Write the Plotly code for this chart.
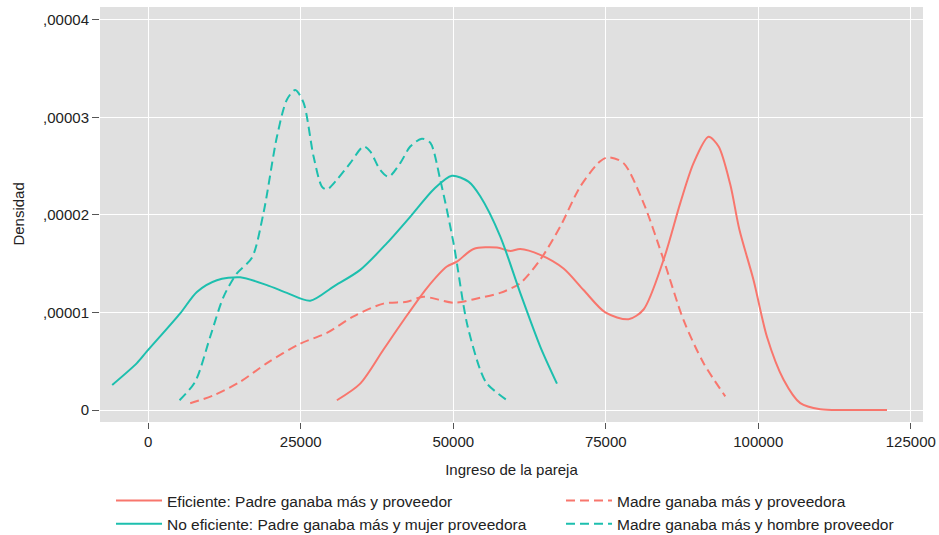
import plotly.graph_objects as go

# Kernel density estimates of couple income, by group
ef_x = [30930, 34750, 38570, 41860, 45680, 48960, 50600, 53330, 57160, 59340, 60980, 64260,
        68080, 71360, 74920, 78740, 81200, 84480, 87210, 89390, 91850, 93500, 95410, 96900,
        99230, 101420, 104150, 106890, 110160, 115000, 121100]
ef_y = [0.10, 0.27, 0.62, 0.92, 1.25, 1.47, 1.52, 1.65, 1.665, 1.63, 1.65, 1.59,
        1.45, 1.23, 1.00, 0.93, 1.03, 1.54, 2.12, 2.53, 2.80, 2.70, 2.31, 1.85,
        1.33, 0.75, 0.31, 0.07, 0.007, 0.0, 0.0]

mp_x = [6885, 10710, 15080, 19460, 24920, 29290, 33660, 38570, 42400, 45140, 50050, 54430,
        57700, 60980, 64260, 67540, 70820, 74100, 75460, 77920, 81200, 84480, 87760, 91040, 94590]
mp_y = [0.07, 0.15, 0.29, 0.48, 0.68, 0.79, 0.96, 1.09, 1.11, 1.16, 1.10, 1.15,
        1.20, 1.30, 1.54, 1.88, 2.29, 2.55, 2.59, 2.53, 2.12, 1.54, 0.92, 0.48, 0.14]

ne_x = [-5900, -1850, -220, 5246, 7980, 11260, 15080, 19460, 22730, 26560, 30380, 34750,
        39130, 43490, 46770, 49780, 52500, 54430, 57700, 60980, 64260, 67000]
ne_y = [0.256, 0.48, 0.60, 0.99, 1.21, 1.33, 1.36, 1.28, 1.20, 1.12, 1.265, 1.436,
        1.71, 2.02, 2.26, 2.40, 2.34, 2.19, 1.78, 1.20, 0.65, 0.27]

mh_x = [5140, 7700, 10160, 12350, 14540, 17000, 18900, 21100, 22730, 24100, 25460, 27100,
        28470, 29290, 30930, 33110, 35300, 36390, 38030, 39400, 41310, 42950, 44860, 46230,
        47870, 50050, 52240, 54430, 55520, 58800]
mh_y = [0.10, 0.29, 0.75, 1.16, 1.40, 1.56, 2.02, 2.80, 3.18, 3.28, 3.15, 2.60,
        2.29, 2.26, 2.36, 2.53, 2.70, 2.65, 2.46, 2.39, 2.53, 2.70, 2.78, 2.74,
        2.36, 1.71, 0.89, 0.41, 0.27, 0.10]

names = [
    "Eficiente: Padre ganaba más y proveedor",
    "Madre ganaba más y proveedora",
    "No eficiente: Padre ganaba más y mujer proveedora",
    "Madre ganaba más y hombre proveedor",
]

x_ticks = [0, 25000, 50000, 75000, 100000, 125000]
y_ticks = [0, 1e-5, 2e-5, 3e-5, 4e-5]
y_ticktext = ["0", ",00001", ",00002", ",00003", ",00004"]

RED = "#F8766D"
TEAL = "#1DBFAE"
DASH = "9px,5px"

# (x, y, name, colour, dash, legend column)
series = [
    (ef_x, ef_y, names[0], RED, "solid", "legend"),
    (mp_x, mp_y, names[1], RED, DASH, "legend2"),
    (ne_x, ne_y, names[2], TEAL, "solid", "legend"),
    (mh_x, mh_y, names[3], TEAL, DASH, "legend2"),
]

fig = go.Figure()
for i, (xs, ys, name, color, dash, leg) in enumerate(series):
    fig.add_trace(go.Scatter(
        x=xs, y=[v * 1e-5 for v in ys], name=name, mode="lines",
        legend=leg, legendgroup=f"g{i}",
        line=dict(color=color, width=2, dash=dash, shape="spline", smoothing=0.8),
    ))

legend_common = dict(
    orientation="v", xref="container", yref="container",
    xanchor="left", yanchor="top", y=1 - 484 / 535,
    font=dict(size=15.5, color="#222"), itemwidth=46, tracegroupgap=0,
    bgcolor="rgba(0,0,0,0)",
)

fig.update_layout(
    width=939, height=535,
    margin=dict(l=100, r=16, t=7, b=113, autoexpand=False),
    paper_bgcolor="white",
    plot_bgcolor="#E0E0E0",
    font=dict(family="Liberation Sans, Arial, sans-serif", size=15, color="#222"),
    showlegend=True,
    legend=dict(x=111 / 939, **legend_common),
    legend2=dict(x=561 / 939, **legend_common),
    # vertical axis title
    annotations=[dict(
        text="Densidad", textangle=-90, showarrow=False,
        xref="paper", yref="paper", x=-0.0995, y=0.5,
        xanchor="center", yanchor="middle", font=dict(size=15, color="#222"),
    )],
)

fig.update_xaxes(
    range=[-7900, 127000], tickvals=x_ticks, ticktext=[str(v) for v in x_ticks],
    tickfont=dict(size=15),
    showgrid=True, gridcolor="white", gridwidth=1.3, zeroline=False,
    ticks="outside", ticklen=6, tickcolor="#555", showline=False,
    title=dict(text="Ingreso de la pareja", font=dict(size=15)),
)
fig.update_yaxes(
    range=[-1.23e-6, 4.13e-5], tickvals=y_ticks, ticktext=y_ticktext,
    tickfont=dict(size=15),
    showgrid=True, gridcolor="white", gridwidth=1.3, zeroline=False,
    ticks="outside", ticklen=7, tickcolor="#555", showline=False,
)

fig.write_html("out.html")
